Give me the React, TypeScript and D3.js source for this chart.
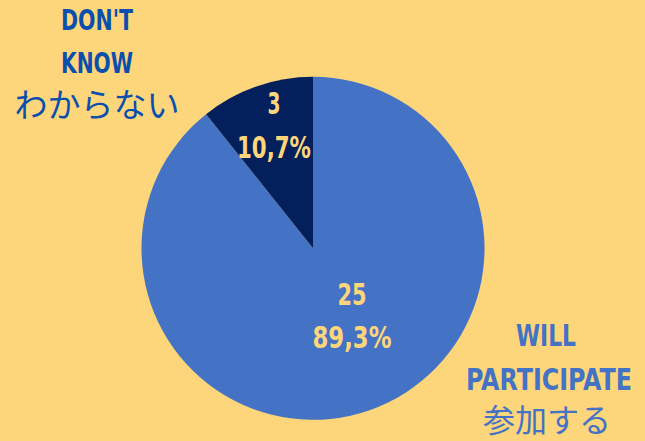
import React, { useLayoutEffect, useRef, useState } from "react";
import * as d3 from "d3";

const categories = ["WILL PARTICIPATE", "DON'T KNOW"];
const values = [25, 3];
const percentLabels = ["89,3%", "10,7%"];
const sliceColors = ["#4472C4", "#03205C"];

const W = 645;
const H = 441;
const BG = "#FDD57B";
const CX = 313;
const CY = 248.3;
const R = 171.5;

const condensed = "'Liberation Sans Narrow', 'DejaVu Sans Condensed', 'Roboto', sans-serif";
const jp = "'Noto Sans CJK JP', 'Noto Sans', sans-serif";

type FitProps = {
  x: number;
  y: number;
  width: number;
  fontSize: number;
  fill: string;
  family: string;
  weight?: string | number;
  children: string;
};

function FitText({ x, y, width, fontSize, fill, family, weight, children }: FitProps) {
  const ref = useRef<SVGTextElement>(null);
  const [sx, setSx] = useState(1);
  useLayoutEffect(() => {
    if (ref.current) {
      const w = ref.current.getComputedTextLength();
      if (w > 0) setSx(width / w);
    }
  }, [width, children, fontSize]);
  return (
    <g transform={`translate(${x},${y}) scale(${sx},1)`}>
      <text
        ref={ref}
        x={0}
        y={0}
        fill={fill}
        fontFamily={family}
        fontWeight={weight}
        fontSize={fontSize}
        textAnchor="middle"
      >
        {children}
      </text>
    </g>
  );
}

export default function App() {
  const pie = d3.pie<number>().sort(null).value((d) => d);
  const arcs = pie(values);
  const arc = d3.arc<d3.PieArcDatum<number>>().innerRadius(0).outerRadius(R);

  const labelPos = [
    { x: 352, y1: 305, y2: 348, w1: 29, w2: 79 },
    { x: 274, y1: 114, y2: 158, w1: 13, w2: 74 },
  ];

  return (
    <svg width={W} height={H} style={{ position: "absolute", left: 0, top: 0, background: BG }}>
      <rect x={0} y={0} width={W} height={H} fill={BG} />
      <g transform={`translate(${CX},${CY})`}>
        {arcs.map((a, i) => (
          <path key={i} d={arc(a) || ""} fill={sliceColors[i]} />
        ))}
      </g>
      {arcs.map((a, i) => (
        <g key={"l" + i}>
          <FitText x={labelPos[i].x} y={labelPos[i].y1} width={labelPos[i].w1} fontSize={30} fill={BG} family={condensed} weight="bold">
            {String(values[i])}
          </FitText>
          <FitText x={labelPos[i].x} y={labelPos[i].y2} width={labelPos[i].w2} fontSize={30} fill={BG} family={condensed} weight="bold">
            {percentLabels[i]}
          </FitText>
        </g>
      ))}
      {/* DON'T KNOW */}
      <FitText x={97} y={30} width={72} fontSize={28} fill="#0B4FAE" family={condensed} weight="bold">DON'T</FitText>
      <FitText x={97} y={73} width={72} fontSize={28} fill="#0B4FAE" family={condensed} weight="bold">KNOW</FitText>
      <FitText x={97} y={117} width={165} fontSize={33} fill="#0B4FAE" family={jp}>わからない</FitText>
      {/* WILL PARTICIPATE */}
      <FitText x={546} y={346} width={60} fontSize={30} fill="#4472C4" family={condensed} weight="bold">WILL</FitText>
      <FitText x={549} y={390} width={166} fontSize={30} fill="#4472C4" family={condensed} weight="bold">PARTICIPATE</FitText>
      <FitText x={547} y={432} width={128} fontSize={32} fill="#4472C4" family={jp}>参加する</FitText>
    </svg>
  );
}
